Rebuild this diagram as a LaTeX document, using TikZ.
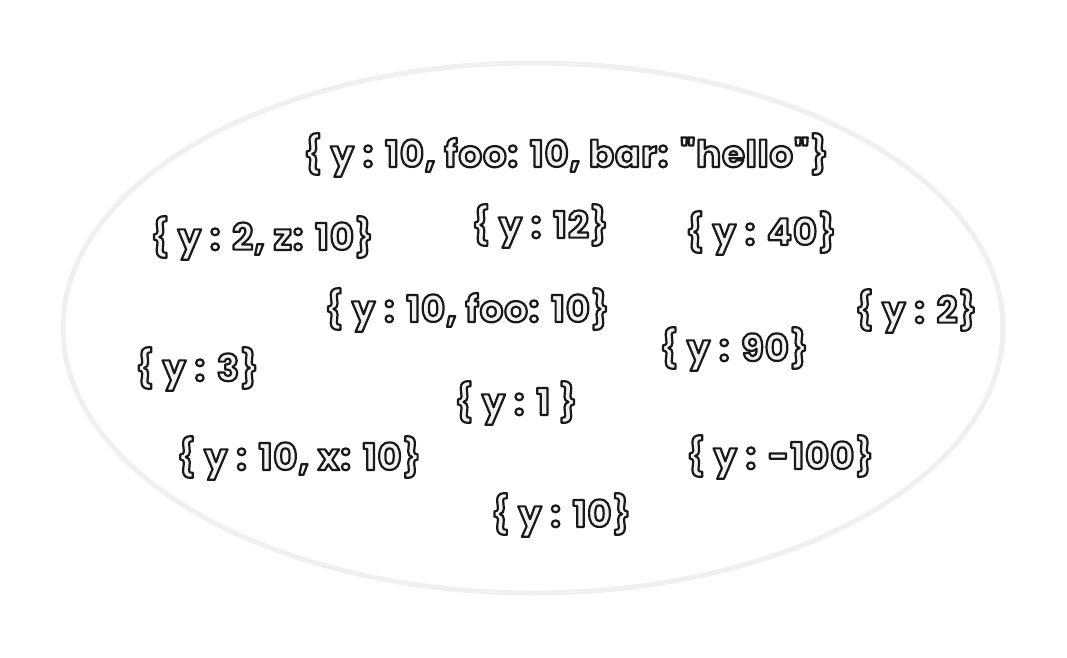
\documentclass[tikz,border=0pt]{standalone}
\usepackage{fontspec}
\setmainfont{Poppins}
\newfontfamily\bubble{Poppins}[LetterSpace=2.5]
\definecolor{ringgray}{HTML}{F0F0F0}
\definecolor{fillgray}{HTML}{F2F2F2}
\newcommand{\outl}[1]{{\color{fillgray}\special{pdf:literal direct 2 Tr 2.2 w 1 j 0.1 0.1 0.1 RG}#1\special{pdf:literal direct 0 Tr}}}
\tikzset{obj/.style={inner sep=0pt, font=\bubble\bfseries\fontsize{37}{40}\selectfont}}
\begin{document}
\begin{tikzpicture}[x=1pt,y=-1pt]
\useasboundingbox (0,0) rectangle (1067,657);
\draw[ringgray, line width=5pt] (533,328) ellipse [x radius=470, y radius=265];
\node[obj] (a) at (566,155) {\outl{\{ y : 10, foo: 10, bar: "hello"\}}};
\node[obj] (b) at (262,238) {\outl{\{ y : 2, z: 10\}}};
\node[obj] (c) at (540,226) {\outl{\{ y : 12\}}};
\node[obj] (d) at (761,233) {\outl{\{ y : 40\}}};
\node[obj] (e) at (467,310) {\outl{\{ y : 10, foo: 10\}}};
\node[obj] (f) at (916,311) {\outl{\{ y : 2\}}};
\node[obj] (g) at (734,349) {\outl{\{ y : 90\}}};
\node[obj] (h) at (197,369) {\outl{\{ y : 3\}}};
\node[obj] (i) at (516,403) {\outl{\{ y : 1 \}}};
\node[obj] (j) at (299,458) {\outl{\{ y : 10, x: 10\}}};
\node[obj] (k) at (780,457) {\outl{\{ y : -100\}}};
\node[obj] (l) at (561,515) {\outl{\{ y : 10\}}};
\end{tikzpicture}
\end{document}
